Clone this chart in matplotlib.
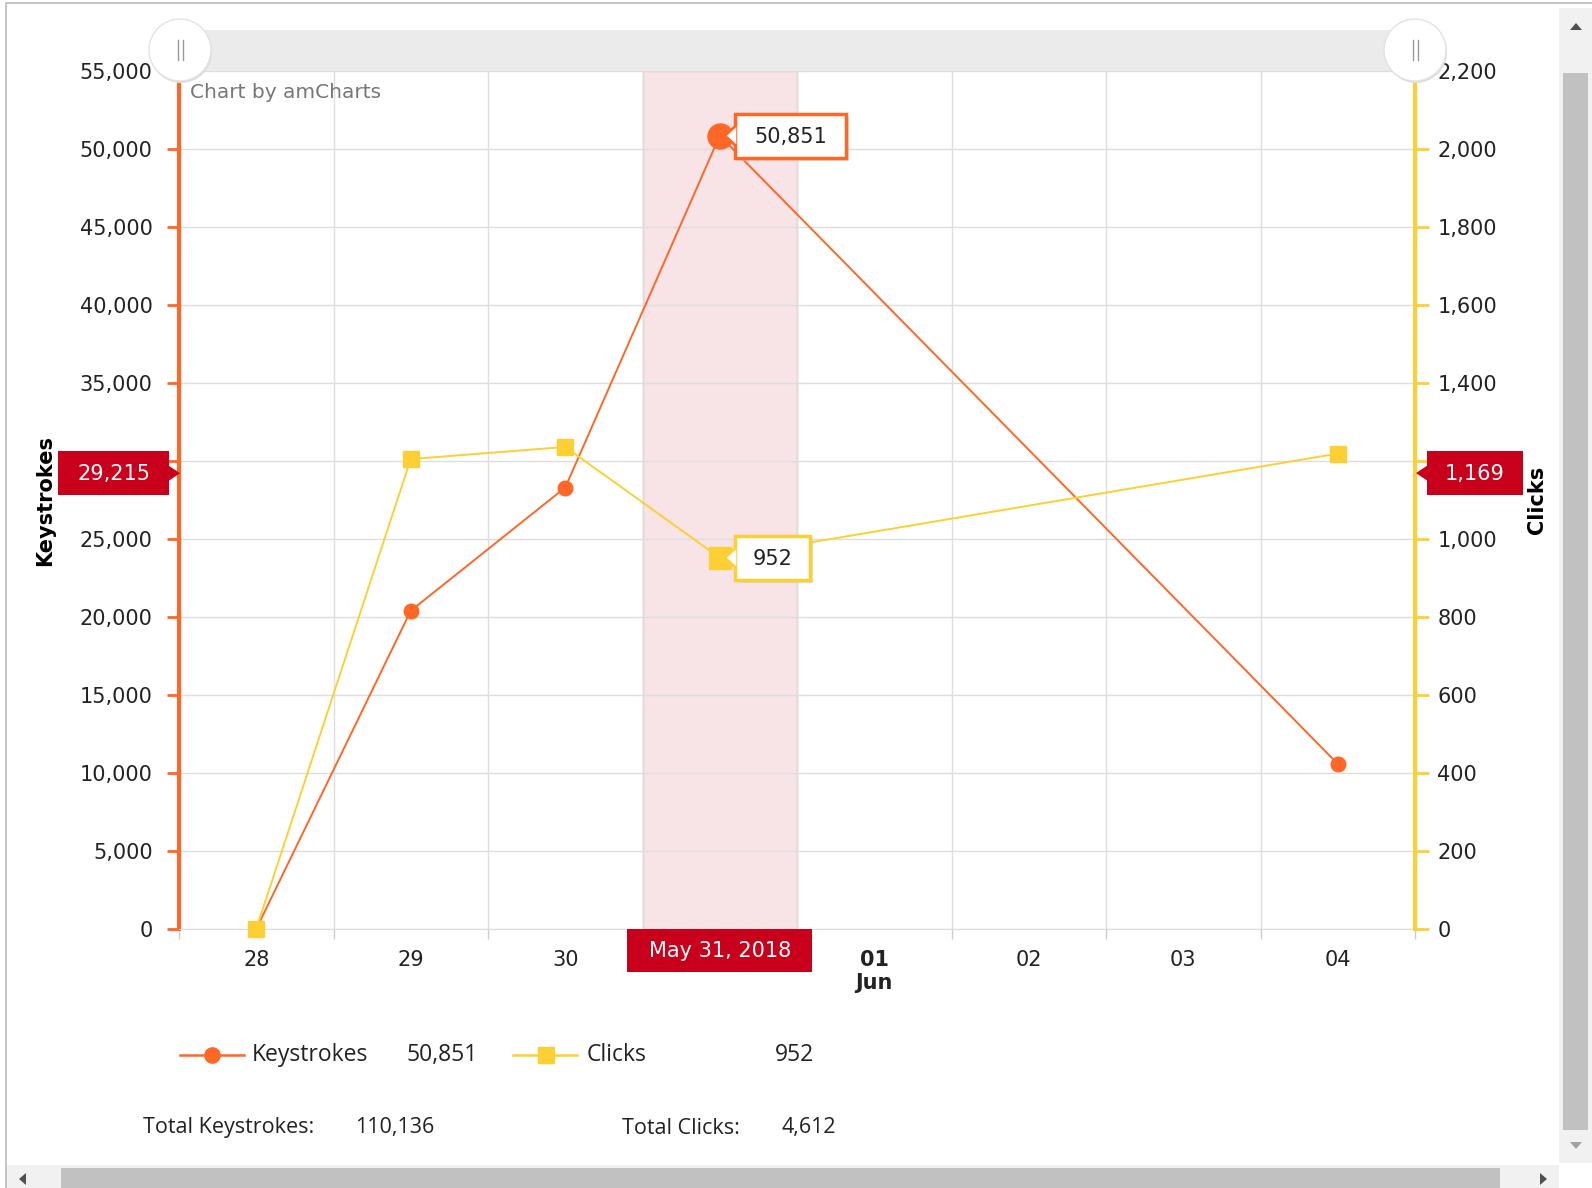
import numpy as np
import matplotlib
matplotlib.use('Agg')
import matplotlib.pyplot as plt
import matplotlib.dates as mdates
from matplotlib.patches import Rectangle, Circle, Polygon

# data
days = ['2018-05-28', '2018-05-29', '2018-05-30', '2018-05-31', '2018-06-04']
keystrokes = [0, 20400, 28300, 50851, 10585]
clicks = [0, 1205, 1236, 952, 1219]
label_days = ['2018-05-28', '2018-05-29', '2018-05-30', '2018-05-31',
              '2018-06-01', '2018-06-02', '2018-06-03', '2018-06-04']
# "31" sits under the cursor's date label, so it is left blank
day_labels = ['28', '29', '30', '', '01\nJun', '02', '03', '04']
selected_day = '2018-05-31'
selected_text = 'May 31, 2018'
cursor_keystrokes = 29215
cursor_clicks = 1169

ORANGE = '#FF6726'
YELLOW = '#FCD034'
RED = '#C8001C'
TXT = '#222222'

W, H = 1592, 1188
L, R, T, B = 179, 1415, 71, 929

fig = plt.figure(figsize=(W / 100, H / 100), dpi=100, facecolor='white')
ax = fig.add_axes([L / W, 1 - B / H, (R - L) / W, (B - T) / H])

x = mdates.date2num(np.array(days, dtype='datetime64[D]'))
xt = mdates.date2num(np.array(label_days, dtype='datetime64[D]'))
sel = mdates.date2num(np.datetime64(selected_day))
i = days.index(selected_day)

ax.set_xlim(xt[0] - 0.5, xt[-1] + 0.5)
ax.set_ylim(0, 55000)
ax.axvspan(sel - 0.5, sel + 0.5, facecolor='#F8E4E7', edgecolor='#D9C6C9', lw=1, zorder=0.3)

ax.plot(x, keystrokes, color=ORANGE, lw=1.4, marker='o', ms=10.5, clip_on=False, zorder=3)
ax.plot(x[i], keystrokes[i], 'o', color=ORANGE, ms=18, zorder=4)

# left axis (30,000 is hidden behind the cursor label)
lticks = list(range(0, 55001, 5000))
ax.set_yticks(lticks)
ax.set_yticklabels(['' if v == 30000 else f'{v:,}' for v in lticks])
ax.tick_params(axis='y', length=9, width=2, color=ORANGE, pad=10, labelsize=15, labelcolor=TXT)
ax.set_xticks(xt)
ax.set_xticklabels(day_labels)
ax.tick_params(axis='x', length=0, pad=15, labelsize=15, labelcolor=TXT)
ax.get_xticklabels()[4].set_fontweight('bold')
ax.set_xticks(np.arange(xt[0] - 0.5, xt[-1] + 0.51, 1), minor=True)
ax.tick_params(axis='x', which='minor', length=7, color='#CCCCCC', width=1)
ax.grid(axis='y', color='#DDDDDD', lw=1)
ax.grid(axis='x', which='minor', color='#DDDDDD', lw=1)
ax.set_axisbelow(True)
for s in ['top', 'right']:
    ax.spines[s].set_visible(False)
ax.spines['bottom'].set_color('#DDDDDD')
ax.spines['left'].set_color(ORANGE)
ax.spines['left'].set_linewidth(3)

# right axis (1,200 is hidden behind the cursor label)
ax2 = ax.twinx()
ax2.set_ylim(0, 2200)
ax2.plot(x, clicks, color=YELLOW, lw=1.4, marker='s', ms=11, clip_on=False, zorder=3)
ax2.plot(x[i], clicks[i], 's', color=YELLOW, ms=16, zorder=4)
rticks = list(range(0, 2201, 200))
ax2.set_yticks(rticks)
ax2.set_yticklabels(['' if v == 1200 else f'{v:,}' for v in rticks])
ax2.tick_params(axis='y', length=10, width=2, color=YELLOW, pad=6, labelsize=15, labelcolor=TXT)
for s in ['top', 'left', 'bottom']:
    ax2.spines[s].set_visible(False)
ax2.spines['right'].set_color(YELLOW)
ax2.spines['right'].set_linewidth(3)


def to_px(a, xv, yv):
    X, Y = a.transData.transform((xv, yv))
    return X, H - Y


# overlay in pixel coordinates for the widget decorations
ov = fig.add_axes([0, 0, 1, 1], zorder=10)
ov.set_xlim(0, W)
ov.set_ylim(H, 0)
ov.axis('off')

# outer border
ov.plot([6, 6, 1592], [1188, 3, 3], color='#BBBBBB', lw=1.2)

# chart scrollbar
ov.add_patch(Rectangle((181, 30), R - 181, 41, color='#EBEBEB', lw=0))
for cx in [180, 1415]:
    ov.add_patch(Circle((cx + 1, 52), 31, color='#DDDDDD', lw=0))
    ov.add_patch(Circle((cx, 50), 31, facecolor='white', edgecolor='#E2E2E2', lw=1))
    ov.plot([cx - 2.5, cx - 2.5], [40, 60], color='#999999', lw=1)
    ov.plot([cx + 2.5, cx + 2.5], [40, 60], color='#999999', lw=1)
ov.text(190, 93, 'Chart by amCharts', color='#777777', fontsize=14.5,
        va='center', ha='left')

# axis titles
ov.text(45, 500, 'Keystrokes', rotation=90, fontsize=15, fontweight='bold',
        ha='center', va='center', color='black')
ov.text(1537, 500, 'Clicks', rotation=90, fontsize=15, fontweight='bold',
        ha='center', va='center', color='black')

# cursor value labels
_, yk = to_px(ax, 0, cursor_keystrokes)
ov.add_patch(Rectangle((58, yk - 22), 111, 44, color=RED, lw=0))
ov.add_patch(Polygon([(168, yk - 8), (180, yk), (168, yk + 8)], color=RED, lw=0))
ov.text(114, yk + 1, f'{cursor_keystrokes:,}', color='white', fontsize=15, ha='center', va='center')

_, yc = to_px(ax2, 0, cursor_clicks)
ov.add_patch(Rectangle((1427, yc - 22), 96, 44, color=RED, lw=0))
ov.add_patch(Polygon([(1428, yc - 8), (1416, yc), (1428, yc + 8)], color=RED, lw=0))
ov.text(1475, yc + 1, f'{cursor_clicks:,}', color='white', fontsize=15, ha='center', va='center')

xs, _ = to_px(ax, sel, 0)
ov.add_patch(Rectangle((xs - 93, B), 185, 43, color=RED, lw=0))
ov.text(xs, B + 22, selected_text, color='white', fontsize=15, ha='center', va='center')

# balloons at the selected day
for a, val, col, wbox in [(ax, keystrokes[i], ORANGE, 111), (ax2, clicks[i], YELLOW, 75)]:
    px, py = to_px(a, x[i], val)
    bx = px + 15
    ov.add_patch(Rectangle((bx + 3, py - 19), wbox, 44, color='#CCCCCC', alpha=0.6, lw=0))
    ov.add_patch(Rectangle((bx, py - 22), wbox, 44, facecolor='white', edgecolor=col, lw=2.5))
    ov.add_patch(Polygon([(bx + 1.5, py - 9), (px + 5, py), (bx + 1.5, py + 9)],
                         facecolor='white', edgecolor='none'))
    ov.plot([bx, px + 5, bx], [py - 9, py, py + 9], color=col, lw=2)
    ov.text(bx + wbox / 2, py + 1, f'{val:,}', color=TXT, fontsize=15, ha='center', va='center')

# legend
ly = 1055
ov.plot([180, 244], [ly, ly], color=ORANGE, lw=1.8)
ov.plot([212], [ly], 'o', color=ORANGE, ms=11)
ov.text(252, ly, 'Keystrokes', fontsize=16.5, family='Open Sans', color=TXT, va='center')
ov.text(406, ly, f'{keystrokes[i]:,}', fontsize=16.5, family='Open Sans', color=TXT, va='center')
ov.plot([513, 577], [ly, ly], color=YELLOW, lw=1.8)
ov.plot([546], [ly], 's', color=YELLOW, ms=11)
ov.text(587, ly, 'Clicks', fontsize=16.5, family='Open Sans', color=TXT, va='center')
ov.text(775, ly, f'{clicks[i]:,}', fontsize=16.5, family='Open Sans', color=TXT, va='center')

# totals
ty = 1128
ov.text(143, ty, 'Total Keystrokes:', fontsize=15.5, family='Open Sans', color=TXT, va='center')
ov.text(355, ty, f'{sum(keystrokes):,}', fontsize=15.5, family='Open Sans', color=TXT, va='center')
ov.text(622, ty, 'Total Clicks:', fontsize=15.5, family='Open Sans', color=TXT, va='center')
ov.text(781, ty, f'{sum(clicks):,}', fontsize=15.5, family='Open Sans', color=TXT, va='center')

# page scrollbars
ov.add_patch(Rectangle((1559, 8), 33, 1155, color='#F1F1F1', lw=0))
ov.add_patch(Rectangle((1563, 73), 25, 1057, color='#C1C1C1', lw=0))
ov.add_patch(Polygon([(1570, 30), (1582, 30), (1576, 23)], color='#505050', lw=0))
ov.add_patch(Polygon([(1570, 1142), (1582, 1142), (1576, 1149)], color='#A3A3A3', lw=0))
ov.add_patch(Rectangle((6, 1165), 1553, 23, color='#F1F1F1', lw=0))
ov.add_patch(Rectangle((61, 1168), 1439, 20, color='#C1C1C1', lw=0))
ov.add_patch(Polygon([(26, 1173), (26, 1185), (19, 1179)], color='#505050', lw=0))
ov.add_patch(Polygon([(1540, 1173), (1540, 1185), (1547, 1179)], color='#505050', lw=0))

fig.savefig('out.png', dpi=100, facecolor='white')
